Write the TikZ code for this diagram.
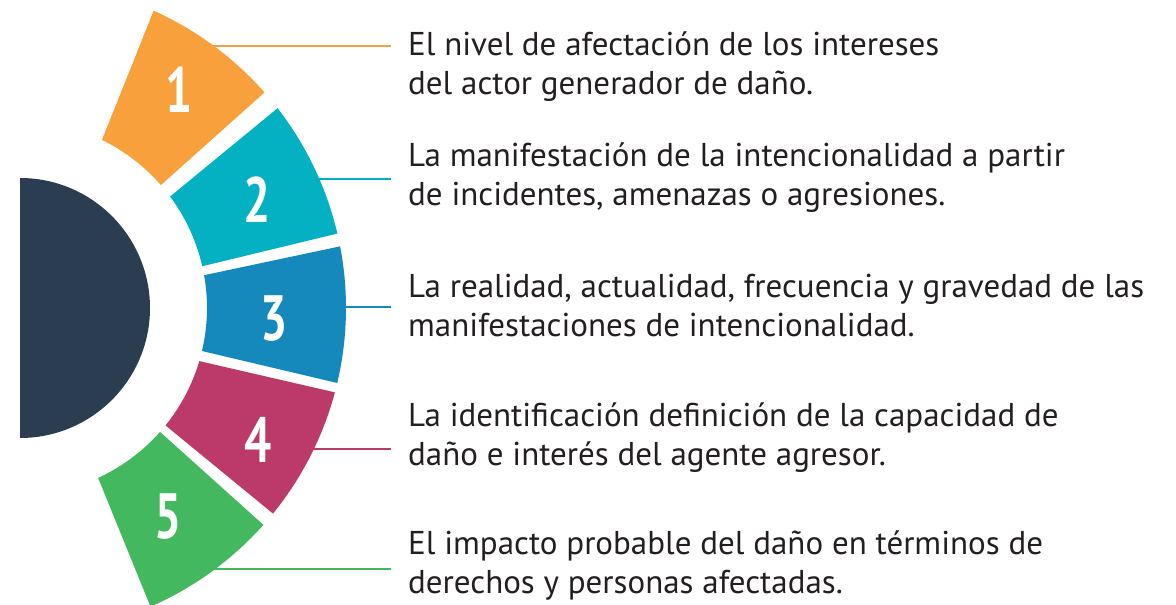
\documentclass[tikz,border=0pt]{standalone}
\usepackage{fontspec}
\setmainfont{PT Sans}
\definecolor{cOrange}{HTML}{F7A03C}
\definecolor{cTeal}{HTML}{03B1C2}
\definecolor{cBlue}{HTML}{1589BC}
\definecolor{cRed}{HTML}{BC3A6A}
\definecolor{cGreen}{HTML}{44B85F}
\definecolor{cDark}{HTML}{2B3D51}
\definecolor{cText}{HTML}{231F20}
\begin{document}
\begin{tikzpicture}[x=1pt,y=1pt,
  num/.style={text=white,font=\fontsize{64}{64}\selectfont\bfseries,inner sep=0pt},
  desc/.style={anchor=base west,align=left,text=cText,inner sep=0pt,font=\fontsize{33}{39.5}\selectfont},
  lead/.style={line width=2pt}]
\useasboundingbox (0,0) rectangle (1176,605);
\def\Ro{326}\def\Ri{187}
% connectors (drawn first, segments cover their start)
\coordinate (s1) at (205,559); \coordinate (e1) at (391,559);
\coordinate (s2) at (300,426); \coordinate (e2) at (391,426);
\coordinate (s3) at (330,298); \coordinate (e3) at (391,298);
\coordinate (s4) at (300,156); \coordinate (e4) at (391,156);
\coordinate (s5) at (200,36);  \coordinate (e5) at (391,36);
\draw[lead,cOrange] (s1) -- (e1);
\draw[lead,cTeal] (s2) -- (e2);
\draw[lead,cBlue] (s3) -- (e3);
\draw[lead,cRed] (s4) -- (e4);
\draw[lead,cGreen] (s5) -- (e5);
% dark half disc
\fill[cDark] (20,427) arc[start angle=90,end angle=-90,radius=130] -- cycle;
% ring segments
\begin{scope}[shift={(20,297)}]
\fill[cOrange] (65.8:\Ro) arc[start angle=65.8,end angle=41.4,radius=\Ro] -- (41.1:\Ri) arc[start angle=41.1,end angle=64.0,radius=\Ri] -- cycle;
\fill[cTeal] (37.8:\Ro) arc[start angle=37.8,end angle=13.2,radius=\Ro] -- (12.9:\Ri) arc[start angle=12.9,end angle=36.6,radius=\Ri] -- cycle;
\fill[cBlue] (10.9:\Ro) arc[start angle=10.9,end angle=-13.3,radius=\Ro] -- (-13.3:\Ri) arc[start angle=-13.3,end angle=10.1,radius=\Ri] -- cycle;
\fill[cRed] (-15:\Ro) arc[start angle=-15,end angle=-39.1,radius=\Ro] -- (-38.9:\Ri) arc[start angle=-38.9,end angle=-16.5,radius=\Ri] -- cycle;
\fill[cGreen] (-41.7:\Ro) arc[start angle=-41.7,end angle=-66.4,radius=\Ro] -- (-65.3:\Ri) arc[start angle=-65.3,end angle=-41.5,radius=\Ri] -- cycle;
\end{scope}
% numbers
\node[num] (n1) at (179,515) {\scalebox{0.75}[1]{1}};
\node[num] (n2) at (257,405) {\scalebox{0.75}[1]{2}};
\node[num] (n3) at (274,286) {\scalebox{0.75}[1]{3}};
\node[num] (n4) at (258,165) {\scalebox{0.75}[1]{4}};
\node[num] (n5) at (168,88) {\scalebox{0.75}[1]{5}};
% descriptions (anchor = baseline of the last line)
\node[desc] (t1) at (408,510) {El nivel de afectación de los intereses\\del actor generador de daño.};
\node[desc] (t2) at (408,399) {La manifestación de la intencionalidad a partir\\de incidentes, amenazas o agresiones.};
\node[desc] (t3) at (408,268) {La realidad, actualidad, frecuencia y gravedad de las\\manifestaciones de intencionalidad.};
\node[desc] (t4) at (408,139) {La identificación definición de la capacidad de\\daño e interés del agente agresor.};
\node[desc] (t5) at (408,11) {El impacto probable del daño en términos de\\derechos y personas afectadas.};
\end{tikzpicture}
\end{document}
